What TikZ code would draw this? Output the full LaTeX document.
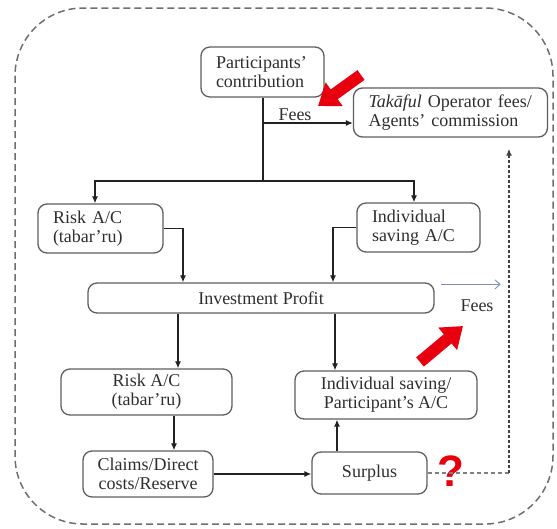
\documentclass[tikz,border=0pt]{standalone}
\usepackage{fontspec}
\setmainfont{Liberation Serif}
\newfontfamily\qfont{Liberation Sans}
\usetikzlibrary{arrows.meta,calc}
\definecolor{txt}{HTML}{2E2E2E}
\definecolor{boxline}{HTML}{5E5E5E}
\definecolor{outerline}{HTML}{6E6E6E}
\definecolor{markred}{HTML}{E8000F}
\definecolor{feeblue}{HTML}{7F8FB0}
\definecolor{conn}{HTML}{222222}

\begin{document}
\begin{tikzpicture}[x=1pt,y=-1pt,
  font=\fontsize{18}{19}\selectfont,
  acct/.style={draw=boxline, line width=1.3pt, rounded corners=9pt, text=txt,
               inner ysep=0pt},
  lbox/.style={acct, align=left, inner xsep=15pt},
  cbox/.style={acct, align=center, inner xsep=0pt},
  lbl/.style={text=txt, inner sep=1pt},
  plain/.style={draw=conn, line width=1.2pt},
  arr/.style={plain, -{Latex[length=7pt,width=6pt]}},
  feearrow/.style={draw=feeblue, line width=0.9pt, -{Straight Barb[length=5pt,width=9pt]}},
  hdash/.style={draw=gray, line width=1.3pt, dash pattern=on 4pt off 3pt},
  vdot/.style={draw=black!75, line width=1.5pt, dash pattern=on 3pt off 2pt},
  redarr/.style={draw=markred, line width=12pt, -{Triangle[length=20pt,width=28pt]}},
  frame/.style={draw=outerline, line width=1.5pt, dash pattern=on 7pt off 4pt,
                rounded corners=68pt}
]
\useasboundingbox (0,0) rectangle (557,528);

% dashed outer frame
\draw[frame] (15,8) rectangle (553,524);

% accounts
\node[lbox, text width=93pt, minimum height=50pt] (part) at (262.5,72) {Participants'\\contribution};
\node[lbox, text width=164pt, minimum height=49pt] (tak) at (450.5,112.5) {\textit{Takāful} Operator fees/\\Agents' commission};
\node[lbox, text width=95pt, minimum height=49pt] (risk1) at (100.5,228.5) {Risk A/C\\(tabar'ru)};
\node[lbox, text width=93pt, minimum height=49pt] (ind1) at (418.5,227.5) {Individual\\saving A/C};
\node[cbox, minimum width=346pt, minimum height=30pt] (inv) at (261,298) {Investment Profit};
\node[cbox, minimum width=171pt, minimum height=46pt] (risk2) at (146.5,392) {Risk A/C\\(tabar'ru)};
\node[cbox, minimum width=182pt, minimum height=48pt] (ind2) at (386,395) {Individual saving/\\Participant's A/C};
\node[cbox, minimum width=130pt, minimum height=46pt] (claims) at (148,474) {Claims/Direct\\costs/Reserve};
\node[cbox, minimum width=115pt, minimum height=42pt] (surplus) at (369.5,473) {Surplus};

% labels
\node[lbl] (fees1) at (295,115) {Fees};
\node[lbl] (fees2) at (477,306) {Fees};
\node[text=markred, inner sep=0pt, font=\qfont\bfseries\fontsize{44}{44}\selectfont] (qm) at (451,471) {?};

% contribution split
\coordinate (split) at (263,181);
\coordinate (bl) at (95,181);
\coordinate (br) at (414,181);
\coordinate (fj) at (263,123);
\draw[plain] (part.south -| split) -- (split);
\draw[arr] (split) -- (bl) -- (bl |- risk1.north);
\draw[arr] (split) -- (br) -- (br |- ind1.north);
\draw[arr] (fj) -- (fj -| tak.west);

% into investment profit
\coordinate (c1) at (183,0);
\coordinate (c2) at (333,0);
\draw[arr] (risk1.east) -| (c1 |- inv.north);
\draw[arr] (ind1.west) -| (c2 |- inv.north);

% out of investment profit
\coordinate (c3) at (178,0);
\coordinate (c4) at (335,0);
\coordinate (c5) at (174,0);
\coordinate (c6) at (337,0);
\draw[arr] (c3 |- inv.south) -- (c3 |- risk2.north);
\draw[arr] (c4 |- inv.south) -- (c4 |- ind2.north);
\draw[arr] (c5 |- risk2.south) -- (c5 |- claims.north);
\draw[arr] (claims.east) -- (claims.east -| surplus.west);
\draw[arr] (c6 |- surplus.north) -- (c6 |- ind2.south);

% fees taken from profit
\draw[feearrow] ($(inv.north east)+(6,2)$) -- ++(60,0);

% surplus back to operator
\coordinate (dc) at (509,0);
\draw[hdash] (surplus.east) -- (surplus.east -| dc);
\draw[vdot, -{Latex[length=7pt,width=6pt]}] (surplus.east -| dc) -- ([yshift=-11pt]dc |- tak.south);

% highlight arrows
\coordinate (h1a) at (361,75);
\coordinate (h1b) at (318,106);
\coordinate (h2a) at (420,362);
\coordinate (h2b) at (463,326);
\draw[redarr] (h1a) -- (h1b);
\draw[redarr] (h2a) -- (h2b);
\end{tikzpicture}
\end{document}
